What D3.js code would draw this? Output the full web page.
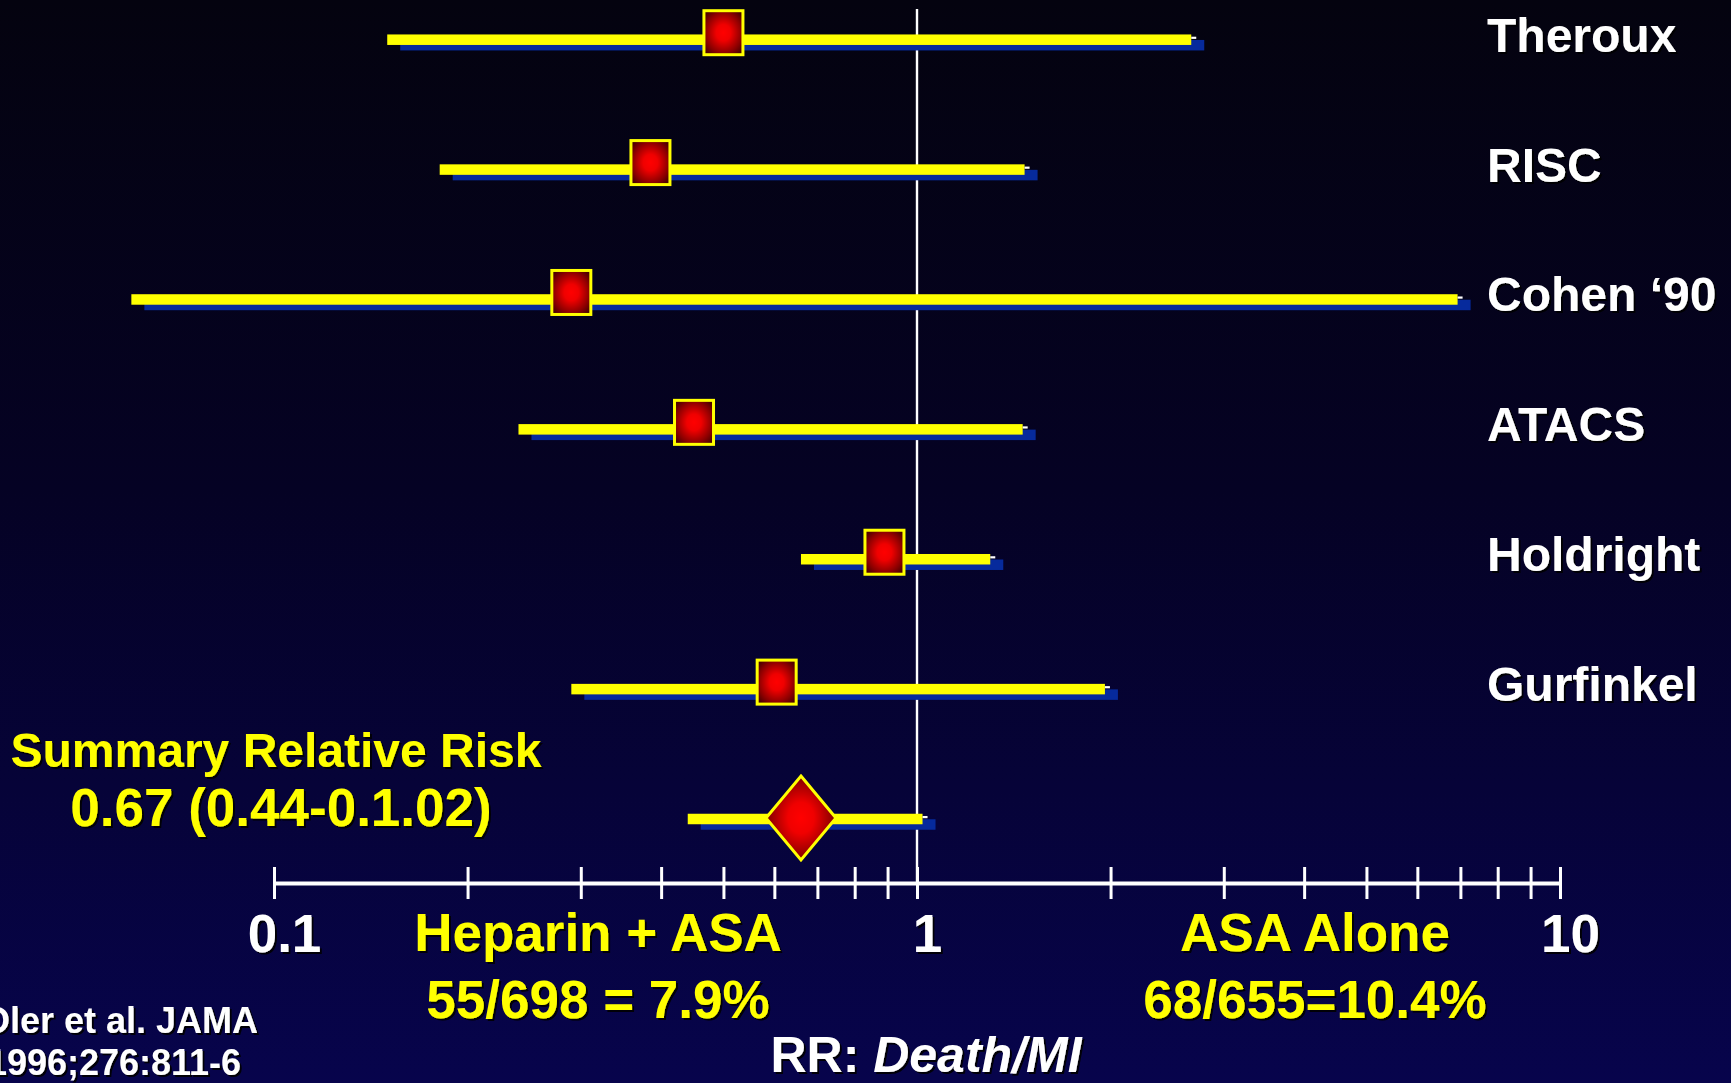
<!DOCTYPE html>
<html><head><meta charset="utf-8">
<script src="https://cdn.jsdelivr.net/npm/d3@7"></script>
<style>
html,body{margin:0;padding:0;background:#04030f;overflow:hidden}
svg{display:block}
text{font-family:"Liberation Sans",Arial,sans-serif;font-weight:bold}
</style></head>
<body>
<svg id="chart" width="1731" height="1083"></svg>
<script>
// ---- data ----
const studies   = ["Theroux", "RISC", "Cohen \u201890", "ATACS", "Holdright", "Gurfinkel"];
const rrPoint   = [0.50, 0.385, 0.29, 0.45, 0.89, 0.605];
const ciLow     = [0.150, 0.181, 0.060, 0.240, 0.660, 0.290];
const ciHigh    = [2.67, 1.47, 6.93, 1.46, 1.30, 1.96];
const summaryRR   = 0.66;
const summaryLow  = 0.44;
const summaryHigh = 1.02;
const tickValues  = [0.1,0.2,0.3,0.4,0.5,0.6,0.7,0.8,0.9,1,2,3,4,5,6,7,8,9,10];
const tickLabels  = ["0.1", "1", "10"];
const summaryTitle = "Summary Relative Risk";
const summaryText  = "0.67 (0.44-0.1.02)";
const leftGroup    = ["Heparin + ASA", "55/698 = 7.9%"];
const rightGroup   = ["ASA Alone", "68/655=10.4%"];
const citation     = ["Oler et al. JAMA", "1996;276:811-6"];

// ---- setup ----
const svg = d3.select("#chart");
const W = 1731, H = 1083;
const defs = svg.append("defs");

const bg = defs.append("linearGradient").attr("id","bg").attr("x1",0).attr("y1",0).attr("x2",0).attr("y2",1);
bg.append("stop").attr("offset","0").attr("stop-color","#04030f");
bg.append("stop").attr("offset","0.45").attr("stop-color","#050224");
bg.append("stop").attr("offset","1").attr("stop-color","#07044c");

const rg = defs.append("radialGradient").attr("id","redg").attr("cx","50%").attr("cy","50%").attr("r","62%");
rg.append("stop").attr("offset","0").attr("stop-color","#ff0000");
rg.append("stop").attr("offset","0.3").attr("stop-color","#f00000");
rg.append("stop").attr("offset","0.75").attr("stop-color","#8a0000");
rg.append("stop").attr("offset","1").attr("stop-color","#4a0000");

const sh = defs.append("filter").attr("id","shadow").attr("x","-10%").attr("y","-10%").attr("width","130%").attr("height","140%");
sh.append("feDropShadow").attr("dx",2).attr("dy",2).attr("stdDeviation",0.6).attr("flood-color","#000").attr("flood-opacity",0.9);

svg.append("rect").attr("width",W).attr("height",H).attr("fill","url(#bg)");

const x = d3.scaleLog().domain([0.1, 10]).range([274, 1560]);
const rows = studies.concat(["Summary"]);
const y = d3.scalePoint().domain(rows).range([39.7, 819]);
const axisY = 883;

// reference line at RR = 1
svg.append("line").attr("x1",x(1)).attr("x2",x(1)).attr("y1",9).attr("y2",axisY)
  .attr("stroke","#ffffff").attr("stroke-width",2.4);

// ---- axis ----
const axis = d3.axisBottom(x).tickValues(tickValues).tickSizeInner(16).tickSizeOuter(0)
  .tickFormat(d => { const s = d3.format("~g")(d); return tickLabels.includes(s) ? s : ""; });
const ag = svg.append("g").attr("transform",`translate(0,${axisY})`).call(axis);
ag.select(".domain").attr("stroke","#ffffff").attr("stroke-width",4);
ag.selectAll(".tick line").attr("y1",-16).attr("y2",16).attr("stroke","#ffffff").attr("stroke-width",3);
ag.selectAll(".tick text").attr("y",69).attr("dy",0).attr("dx",10)
  .attr("fill","#ffffff").attr("font-size",53).attr("font-family","Liberation Sans, Arial, sans-serif")
  .attr("font-weight","bold").attr("filter","url(#shadow)");

// ---- CI bars ----
const barH = 10.5;
const data = studies.map((s,i)=>({name:s, rr:rrPoint[i], lo:ciLow[i], hi:ciHigh[i]}));
const all = data.concat([{name:"Summary", rr:summaryRR, lo:summaryLow, hi:summaryHigh}]);

const g = svg.append("g");
g.selectAll("rect.blue").data(all).join("rect").attr("class","blue")
  .attr("x", d => x(d.lo) + 13).attr("y", d => y(d.name) - barH/2 + 5.5)
  .attr("width", d => x(d.hi) - x(d.lo)).attr("height", barH).attr("fill","#062a9c");
g.selectAll("rect.yel").data(all).join("rect").attr("class","yel")
  .attr("x", d => x(d.lo)).attr("y", d => y(d.name) - barH/2)
  .attr("width", d => x(d.hi) - x(d.lo)).attr("height", barH).attr("fill","#ffff00");
g.selectAll("rect.cap").data(all).join("rect").attr("class","cap")
  .attr("x", d => x(d.hi)).attr("y", d => y(d.name) - 3)
  .attr("width", 5).attr("height", 2.2).attr("fill","#ffffff");

// squares
const sqW = 39, sqH = 44;
g.selectAll("rect.sq").data(data).join("rect").attr("class","sq")
  .attr("x", d => x(d.rr) - sqW/2).attr("y", d => y(d.name) - 7 - sqH/2)
  .attr("width", sqW).attr("height", sqH)
  .attr("fill","url(#redg)").attr("stroke","#ffff00").attr("stroke-width",3);

// diamond
const dx = x(summaryRR), dy = y("Summary") - 1, hw = 35, hh = 42;
g.append("path").attr("d",`M${dx},${dy-hh}L${dx+hw},${dy}L${dx},${dy+hh}L${dx-hw},${dy}Z`)
  .attr("fill","url(#redg)").attr("stroke","#ffff00").attr("stroke-width",3).attr("stroke-linejoin","miter");

// study labels
svg.append("g").selectAll("text").data(studies).join("text")
  .attr("x", 1487).attr("y", d => y(d) + 12)
  .attr("fill","#ffffff").attr("font-size",48).attr("filter","url(#shadow)")
  .text(d => d);

// summary text
svg.append("text").attr("x",276).attr("y",767).attr("text-anchor","middle")
  .attr("fill","#ffff00").attr("font-size",48).attr("filter","url(#shadow)").text(summaryTitle);
svg.append("text").attr("x",281).attr("y",826).attr("text-anchor","middle")
  .attr("fill","#ffff00").attr("font-size",53).attr("filter","url(#shadow)").text(summaryText);

// group labels
[[leftGroup,598],[rightGroup,1315]].forEach(([lines,cx])=>{
  lines.forEach((t,i)=>{
    svg.append("text").attr("x",cx).attr("y", i===0 ? 951 : 1018).attr("text-anchor","middle")
      .attr("fill","#ffff00").attr("font-size",53).attr("filter","url(#shadow)").text(t);
  });
});

// axis title
const tt = svg.append("text").attr("x",926).attr("y",1072).attr("text-anchor","middle")
  .attr("fill","#ffffff").attr("font-size",50).attr("filter","url(#shadow)");
tt.append("tspan").text("RR: ");
tt.append("tspan").attr("font-style","italic").text("Death/MI");

// citation
citation.forEach((t,i)=>{
  svg.append("text").attr("x", i===0 ? 120 : 114).attr("y", i===0 ? 1033 : 1075).attr("text-anchor","middle")
    .attr("fill","#ffffff").attr("font-size",36).attr("filter","url(#shadow)").text(t);
});
</script>
</body></html>
